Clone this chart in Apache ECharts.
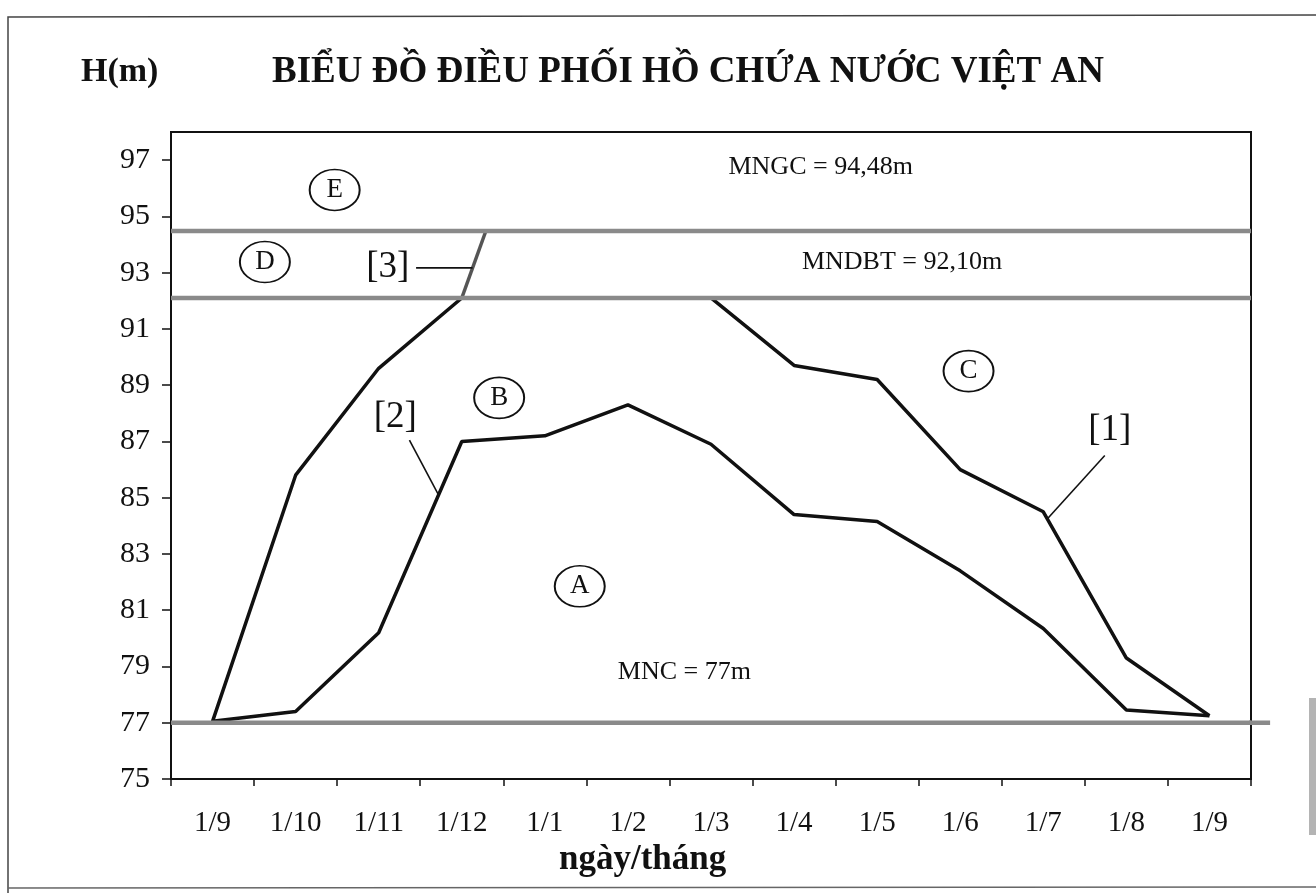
<!DOCTYPE html>
<html lang="vi" style="height: 100%">
<head>
  <meta charset="utf-8">
</head>
<body style="height: 100%; margin: 0; background: #fff">
  <div id="container" style="width: 1316px; height: 893px"></div>

  <script type="text/javascript" src="https://fastly.jsdelivr.net/npm/echarts@6.0.0/dist/echarts.min.js"></script>
  <script type="text/javascript">
    // ngày/tháng
    var months = ['1/9', '1/10', '1/11', '1/12', '1/1', '1/2', '1/3', '1/4', '1/5', '1/6', '1/7', '1/8', '1/9'];
    // đường [1] - giới hạn trên
    var rule1 = [77.05, 85.8, 89.6, 92.1, 92.1, 92.1, 92.1, 89.7, 89.2, 86.0, 84.5, 79.3, 77.25];
    // đường [2] - giới hạn dưới
    var rule2 = [77.05, 77.4, 80.2, 87.0, 87.2, 88.3, 86.9, 84.4, 84.15, 82.4, 80.35, 77.45, 77.25];
    // đường [3]
    var rule3 = [[3, 92.1], [3.29, 94.48]];
    var yTicks = [75, 77, 79, 81, 83, 85, 87, 89, 91, 93, 95, 97];

    var MNGC = 94.48, MNDBT = 92.10, MNC = 77;
    var mncEnd = 12.73; // đường MNC kéo dài ra ngoài khung

    // vùng A..E (toạ độ theo chỉ số tháng / cao trình)
    var zones = [
      { name: 'E', value: [1.47, 95.94] },
      { name: 'D', value: [0.63, 93.38] },
      { name: 'B', value: [3.45, 88.55] },
      { name: 'A', value: [4.42, 81.85] },
      { name: 'C', value: [9.1, 89.5] }
    ];
    var curveTags = [
      { name: '[1]', value: [10.8, 87.4] },
      { name: '[2]', value: [2.2, 87.85] },
      { name: '[3]', value: [2.11, 93.2] }
    ];
    var leaders = [
      [[10.74, 86.5], [10.05, 84.25]],
      [[2.37, 87.05], [2.72, 85.1]],
      [[2.45, 93.17], [3.13, 93.17]]
    ];
    var levelTexts = [
      { name: 'MNGC = 94,48m', value: [7.32, 96.75] },
      { name: 'MNDBT = 92,10m', value: [8.3, 93.38] },
      { name: 'MNC = 77m', value: [5.68, 78.8] }
    ];

    var serif = "'Liberation Serif', 'DejaVu Serif', serif";
    var ink = '#111';
    var grey = '#8a8a8a';

    var dom = document.getElementById('container');
    var myChart = echarts.init(dom, null, { renderer: 'canvas' });

    var series = [
      {
        type: 'line', data: rule1, symbol: 'none', z: 3,
        lineStyle: { color: ink, width: 3.5 }
      },
      {
        type: 'line', data: rule2, symbol: 'none', z: 3,
        lineStyle: { color: ink, width: 3.5 }
      },
      {
        type: 'line', xAxisIndex: 1, data: rule3, symbol: 'none', z: 4,
        lineStyle: { color: '#555', width: 3.5 }
      }
    ];

    [MNGC, MNDBT, MNC].forEach(function (h) {
      series.push({
        type: 'line', xAxisIndex: 1, symbol: 'none', z: 5,
        data: [[-0.5, h], [12.5, h]],
        lineStyle: { color: grey, width: 4.5 }
      });
    });

    leaders.forEach(function (seg) {
      series.push({
        type: 'line', xAxisIndex: 1, symbol: 'none', z: 4, data: seg,
        lineStyle: { color: ink, width: 1.6 }
      });
    });

    series.push({
      type: 'scatter', xAxisIndex: 1, data: zones, z: 6,
      symbol: 'circle', symbolSize: [50, 41],
      itemStyle: { color: '#fff', borderColor: ink, borderWidth: 1.8, opacity: 1 },
      label: {
        show: true, position: 'inside', formatter: '{b}',
        color: ink, fontFamily: serif, fontSize: 27
      }
    });
    series.push({
      type: 'scatter', xAxisIndex: 1, data: curveTags, z: 6,
      symbolSize: 1, itemStyle: { color: 'rgba(0,0,0,0)', opacity: 1 },
      label: {
        show: true, position: 'inside', formatter: '{b}',
        color: ink, fontFamily: serif, fontSize: 37
      }
    });
    series.push({
      type: 'scatter', xAxisIndex: 1, data: levelTexts, z: 6,
      symbolSize: 1, itemStyle: { color: 'rgba(0,0,0,0)', opacity: 1 },
      label: {
        show: true, position: 'inside', formatter: '{b}',
        color: ink, fontFamily: serif, fontSize: 26
      }
    });

    var option = {
      backgroundColor: '#fff',
      animation: false,
      title: [
        {
          text: 'BIỂU ĐỒ ĐIỀU PHỐI HỒ CHỨA NƯỚC VIỆT AN',
          left: 267, top: 49,
          textStyle: { fontFamily: serif, fontWeight: 'bold', fontSize: 37, color: ink }
        },
        {
          text: 'H(m)',
          left: 76, top: 50,
          textStyle: { fontFamily: serif, fontWeight: 'bold', fontSize: 34, color: ink }
        },
        {
          text: 'ngày/tháng',
          left: 554, top: 837,
          textStyle: { fontFamily: serif, fontWeight: 'bold', fontSize: 35, color: ink }
        }
      ],
      grid: {
        left: 171, right: 65, top: 132, bottom: 114,
        show: true, borderColor: ink, borderWidth: 2, backgroundColor: 'rgba(0,0,0,0)'
      },
      xAxis: [
        {
          type: 'category',
          data: months,
          boundaryGap: true,
          axisLine: { lineStyle: { color: ink, width: 2 } },
          axisTick: { show: true, interval: 0, length: 7, lineStyle: { color: ink, width: 1.5 } },
          axisLabel: { interval: 0, margin: 30, color: ink, fontFamily: serif, fontSize: 29 },
          splitLine: { show: false }
        },
        {
          type: 'value', min: -0.5, max: 12.5, show: false
        }
      ],
      yAxis: {
        type: 'value',
        min: 75, max: 98,
        axisLine: { show: true, onZero: false, lineStyle: { color: ink, width: 2 } },
        axisTick: { show: true, length: 9, customValues: yTicks, lineStyle: { color: ink, width: 1.5 } },
        axisLabel: { customValues: yTicks, margin: 21, color: ink, fontFamily: serif, fontSize: 30 },
        splitLine: { show: false }
      },
      graphic: [
        {
          id: 'frameTopLeft', type: 'polyline', silent: true,
          shape: { points: [[1316, 15], [8, 17], [8, 893]] },
          style: { stroke: '#444', lineWidth: 1.5, fill: null }
        },
        {
          id: 'frameBottom', type: 'line', silent: true,
          shape: { x1: 8, y1: 888, x2: 1316, y2: 887 },
          style: { stroke: '#666', lineWidth: 1.5 }
        },
        {
          id: 'scanBar', type: 'rect', silent: true,
          shape: { x: 1309, y: 698, width: 8, height: 137 },
          style: { fill: '#b4b4b4' }
        }
      ],
      series: series
    };

    myChart.setOption(option);

    // phần đường MNC nằm ngoài khung (đặt qua thang đo của trục)
    var finder = { xAxisIndex: 1, yAxisIndex: 0 };
    var p0 = myChart.convertToPixel(finder, [12.5, MNC]);
    var p1 = myChart.convertToPixel(finder, [mncEnd, MNC]);
    myChart.setOption({
      graphic: [{
        id: 'mncExt', type: 'line', silent: true, z: 10,
        shape: { x1: p0[0] - 2, y1: p0[1], x2: p1[0], y2: p1[1] },
        style: { stroke: grey, lineWidth: 4.5 }
      }]
    });

    window.addEventListener('resize', myChart.resize);
  </script>
</body>
</html>
